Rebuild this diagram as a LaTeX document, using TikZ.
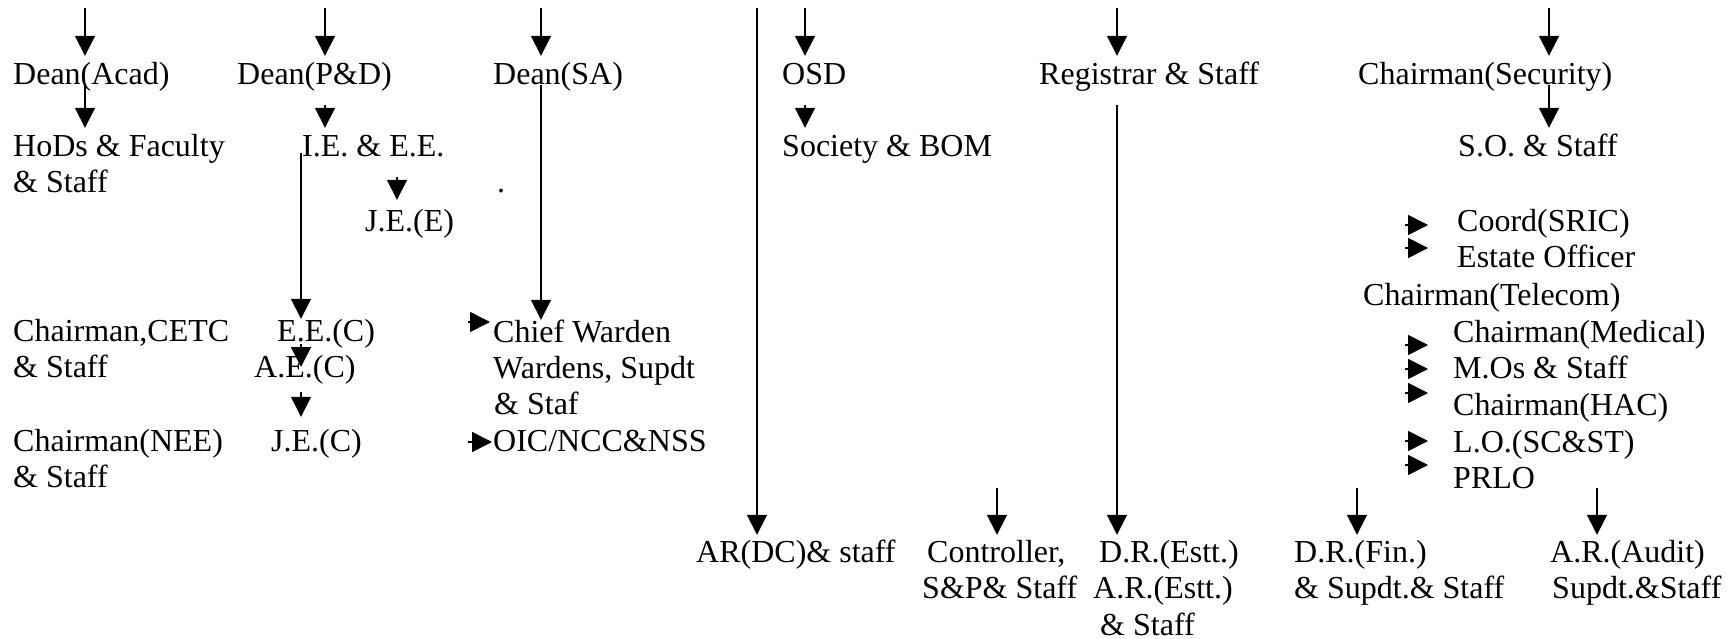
\documentclass[tikz,border=0pt]{standalone}
\usepackage{fontspec}
\setmainfont{Liberation Serif}
\usetikzlibrary{arrows.meta}
\begin{document}
\begin{tikzpicture}[x=1pt,y=-1pt,
  lbl/.style={anchor=base west, inner sep=0pt, text height=22pt, text depth=7pt, font=\fontsize{32}{36}\selectfont},
  arr/.style={line width=1.6pt, -{Triangle[length=20pt,width=20pt]}}]
\fill[white] (0,0) rectangle (1736,639);
\useasboundingbox (0,0) rectangle (1736,639);
% row 1
\node[lbl] (dacad) at (13,85) {Dean(Acad)};
\node[lbl] (dpd) at (237,85) {Dean(P\&D)};
\node[lbl] (dsa) at (493,85) {Dean(SA)};
\node[lbl] (osd) at (782,85) {OSD};
\node[lbl] (reg) at (1039,85) {Registrar \& Staff};
\node[lbl] (csec) at (1358,85) {Chairman(Security)};
% row 2
\node[lbl] (hods) at (13,157) {HoDs \& Faculty};
\node[lbl] (hods2) at (13,193) {\& Staff};
\node[lbl] (ied) at (302,157) {I.E. \& E.E.};
\node[lbl] (soc) at (782,157) {Society \& BOM};
\node[lbl] (so) at (1458,157) {S.O. \& Staff};
\node[lbl] (dot) at (497,193) {.};
\node[lbl] (jee) at (365,231) {J.E.(E)};
\node[lbl] (coord) at (1457,231) {Coord(SRIC)};
\node[lbl] (estate) at (1457,267) {Estate Officer};
\node[lbl] (ctel) at (1363,305) {Chairman(Telecom)};
% row 3
\node[lbl] (cetc) at (13,341) {Chairman,CETC};
\node[lbl] (cetc2) at (13,377) {\& Staff};
\node[lbl] (eec) at (277,341) {E.E.(C)};
\node[lbl] (aec) at (254,377) {A.E.(C)};
\node[lbl] (jec) at (271,451) {J.E.(C)};
\node[lbl] (nee) at (13,451) {Chairman(NEE)};
\node[lbl] (nee2) at (13,487) {\& Staff};
\node[lbl] (cw) at (493,342) {Chief Warden};
\node[lbl] (wardens) at (493,378) {Wardens, Supdt};
\node[lbl] (staf) at (494,414) {\& Staf};
\node[lbl] (oic) at (493,451) {OIC/NCC\&NSS};
\node[lbl] (cmed) at (1453,342) {Chairman(Medical)};
\node[lbl] (mos) at (1453,378) {M.Os \& Staff};
\node[lbl] (chac) at (1453,415) {Chairman(HAC)};
\node[lbl] (lo) at (1453,452) {L.O.(SC\&ST)};
\node[lbl] (prlo) at (1453,488) {PRLO};
% bottom row
\node[lbl] (ardc) at (696,562) {AR(DC)\& staff};
\node[lbl] (ctrl) at (927,562) {Controller,};
\node[lbl] (ctrl2) at (922,598) {S\&P\& Staff};
\node[lbl] (drestt) at (1099,562) {D.R.(Estt.)};
\node[lbl] (arestt) at (1093,598) {A.R.(Estt.)};
\node[lbl] (estt3) at (1100,635) {\& Staff};
\node[lbl] (drfin) at (1294,562) {D.R.(Fin.)};
\node[lbl] (drfin2) at (1294,598) {\& Supdt.\& Staff};
\node[lbl] (araudit) at (1550,562) {A.R.(Audit)};
\node[lbl] (araudit2) at (1552,598) {Supdt.\&Staff};
% free ends
\coordinate (a0) at (757,8);
\coordinate (a1) at (85,8);
\coordinate (a2) at (325,8);
\coordinate (a3) at (541,8);
\coordinate (a4) at (805,8);
\coordinate (a5) at (1117,8);
\coordinate (a6) at (1549,8);
\coordinate (b2) at (325,105);
\coordinate (b3) at (301,153);
\coordinate (b4) at (397,177);
\coordinate (b5) at (805,105);
\coordinate (b6) at (1117,105);
\coordinate (b7) at (301,344);
\coordinate (b8) at (301,392);
\coordinate (r1) at (468,322);
\coordinate (r2) at (468,442);
\coordinate (r3) at (1405,225);
\coordinate (r4) at (1405,248);
\coordinate (r5) at (1405,345);
\coordinate (r6) at (1405,369);
\coordinate (r7) at (1405,393);
\coordinate (r8) at (1405,441);
\coordinate (r9) at (1405,465);
\coordinate (c1) at (997,488);
\coordinate (c2) at (1357,488);
\coordinate (c3) at (1597,488);
% top arrows
\draw[arr, shorten >=7pt] (a1) -- (a1 |- dacad.north);
\draw[arr, shorten >=7pt] (a2) -- (a2 |- dpd.north);
\draw[arr, shorten >=7pt] (a3) -- (a3 |- dsa.north);
\draw[arr, shorten >=7pt] (a4) -- (a4 |- osd.north);
\draw[arr, shorten >=7pt] (a5) -- (a5 |- reg.north);
\draw[arr, shorten >=7pt] (a6) -- (a6 |- csec.north);
\draw[arr, shorten >=5pt] (a0) -- (a0 |- ardc.north);
% second level
\draw[arr, shorten >=7pt] (dacad.base -| a1) -- (a1 |- hods.north);
\draw[arr, shorten >=7pt] (b2) -- (b2 |- ied.north);
\draw[arr] (b3) -- (b3 |- eec.north);
\draw[arr, shorten >=9pt] (b4) -- (b4 |- jee.north);
\draw[arr] (dsa.base -| a3) -- (a3 |- cw.north);
\draw[arr, shorten >=7pt] (b5) -- (b5 |- soc.north);
\draw[arr, shorten >=5pt] (b6) -- (b6 |- drestt.north);
\draw[arr, shorten >=7pt] (csec.base -| a6) -- (a6 |- so.north);
\draw[arr, shorten >=10pt] (b7) -- (b7 |- aec.base);
\draw[arr, shorten >=12pt] (b8) -- (b8 |- jec.north);
% right arrows
\draw[arr, shorten >=3pt] (r1) -- (r1 -| cw.west);
\draw[arr, shorten >=1pt] (r2) -- (r2 -| oic.west);
\draw[arr, shorten >=29pt] (r3) -- (r3 -| coord.west);
\draw[arr, shorten >=29pt] (r4) -- (r4 -| estate.west);
\draw[arr, shorten >=25pt] (r5) -- (r5 -| cmed.west);
\draw[arr, shorten >=25pt] (r6) -- (r6 -| mos.west);
\draw[arr, shorten >=25pt] (r7) -- (r7 -| chac.west);
\draw[arr, shorten >=25pt] (r8) -- (r8 -| lo.west);
\draw[arr, shorten >=25pt] (r9) -- (r9 -| prlo.west);
% bottom arrows
\draw[arr, shorten >=5pt] (c1) -- (c1 |- ctrl.north);
\draw[arr, shorten >=5pt] (c2) -- (c2 |- drfin.north);
\draw[arr, shorten >=5pt] (c3) -- (c3 |- araudit.north);
\end{tikzpicture}
\end{document}
